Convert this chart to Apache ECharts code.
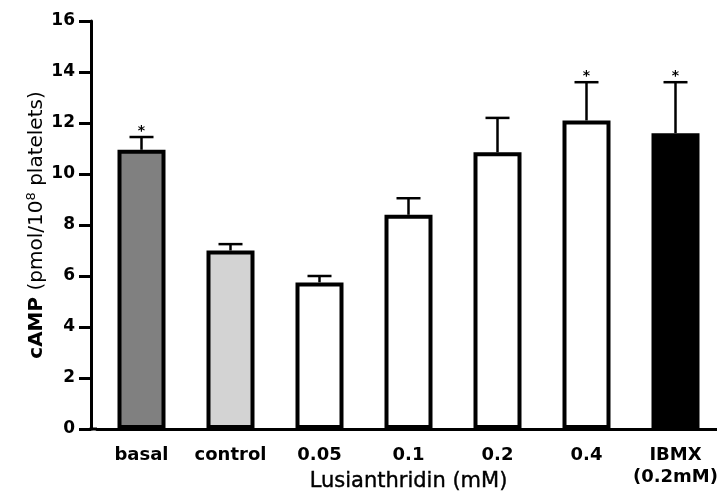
<!DOCTYPE html>
<html>
<head>
<meta charset="utf-8">
<title>cAMP - Lusianthridin</title>
<script src="https://cdn.jsdelivr.net/npm/echarts@6/dist/echarts.min.js"></script>
<style>
  html, body { margin: 0; padding: 0; background: #fff; }
  #main { width: 717px; height: 499px; }
</style>
</head>
<body>
<div id="main"></div>
<script>
  // values (mean + upper SEM bar)
  var categories = ['basal', 'control', '0.05', '0.1', '0.2', '0.4', 'IBMX\n(0.2mM)'];
  var means = [10.95, 7.0, 5.75, 8.4, 10.85, 12.1, 11.6];
  var sem = [0.5, 0.25, 0.25, 0.65, 1.35, 1.5, 2.0];
  var significant = [1, 0, 0, 0, 0, 1, 1];
  var barColors = ['#808080', '#d3d3d3', '#ffffff', '#ffffff', '#ffffff', '#ffffff', '#000000'];
  var yMin = 0;
  var yMax = 16;
  var yStep = 2;

  var font = 'DejaVu Sans';
  var gridLeft = 97, gridTop = 21, gridBottom = 70;

  var myChart = echarts.init(document.getElementById('main'));

  var option = {
    backgroundColor: '#fff',
    animation: false,
    grid: {
      left: gridLeft, right: -3, top: gridTop, bottom: gridBottom,
      containLabel: false,
      outerBoundsMode: 'none'
    },
    xAxis: {
      type: 'category',
      data: categories,
      name: 'Lusianthridin (mM)',
      nameLocation: 'middle',
      nameGap: 42,
      nameMoveOverlap: false,
      nameTextStyle: { fontFamily: font, fontSize: 21, color: '#000', textBorderColor: '#000', textBorderWidth: 0.4 },
      axisLine: { lineStyle: { color: '#000', width: 3 } },
      axisTick: { alignWithLabel: true, length: 10, lineStyle: { color: '#000', width: 3 } },
      axisLabel: {
        interval: 0,
        margin: 15,
        fontFamily: font,
        fontSize: 18,
        fontWeight: 'bold',
        color: '#000',
        lineHeight: 22
      }
    },
    yAxis: {
      type: 'value',
      min: yMin,
      max: yMax,
      interval: yStep,
      offset: 6,
      name: '{b|cAMP} (pmol/10{s|8} platelets)',
      nameLocation: 'middle',
      nameGap: 42,
      nameMoveOverlap: false,
      nameTextStyle: {
        fontFamily: font,
        fontSize: 20,
        color: '#000',
        lineHeight: 24,
        rich: {
          b: { fontFamily: font, fontSize: 20, fontWeight: 'bold', color: '#000', lineHeight: 24 },
          s: { fontFamily: font, fontSize: 13, color: '#000', lineHeight: 13, verticalAlign: 'top' }
        }
      },
      splitLine: { show: false },
      axisLine: { show: true, lineStyle: { color: '#000', width: 3 } },
      axisTick: { show: true, length: 12, lineStyle: { color: '#000', width: 3 } },
      axisLabel: {
        margin: 16,
        fontFamily: font,
        fontSize: 17,
        fontWeight: 'bold',
        color: '#000'
      }
    },
    // fill the short piece of x axis between y axis and first band
    graphic: [{
      type: 'line',
      shape: { x1: gridLeft - 7.5, y1: 499 - gridBottom, x2: gridLeft, y2: 499 - gridBottom },
      style: { stroke: '#000', lineWidth: 3 },
      z: 10
    }],
    series: [
      {
        type: 'bar',
        barWidth: 48,
        data: means.map(function (v, i) {
          return { value: v, itemStyle: { color: barColors[i], borderColor: '#000', borderWidth: 4 } };
        }),
        z: 2
      },
      {
        type: 'custom',
        z: 3,
        encode: { x: 0, y: 1 },
        data: means.map(function (m, i) { return [i, m, sem[i], significant[i]]; }),
        renderItem: function (params, api) {
          var base = api.coord([api.value(0), api.value(1)]);
          var top = api.coord([api.value(0), api.value(1) + api.value(2)]);
          var half = 12;
          var children = [
            { type: 'line', shape: { x1: base[0], y1: base[1], x2: top[0], y2: top[1] },
              style: { stroke: '#000', lineWidth: 2.5 } },
            { type: 'line', shape: { x1: top[0] - half, y1: top[1], x2: top[0] + half, y2: top[1] },
              style: { stroke: '#000', lineWidth: 2.5 } }
          ];
          if (api.value(3)) {
            children.push({
              type: 'text',
              x: top[0],
              y: top[1] - 6,
              style: { text: '*', fontFamily: font, fontSize: 14, fontWeight: 'bold', fill: '#000', align: 'center', verticalAlign: 'middle' }
            });
          }
          return { type: 'group', children: children };
        }
      }
    ]
  };

  myChart.setOption(option);
</script>
</body>
</html>
